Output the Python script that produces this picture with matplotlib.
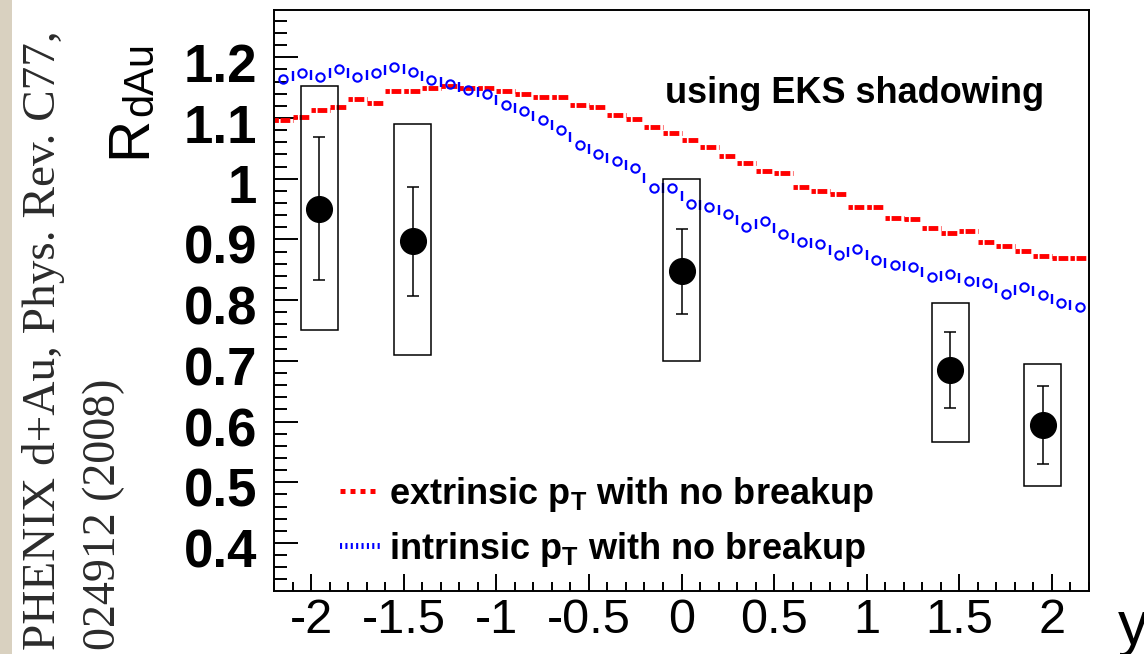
import numpy as np
import matplotlib.pyplot as plt
from matplotlib.patches import Rectangle
from matplotlib.lines import Line2D
from matplotlib.ticker import MultipleLocator
from matplotlib.transforms import ScaledTranslation

plt.rcParams['font.family'] = ['Liberation Sans', 'DejaVu Sans']
plt.rcParams['mathtext.fontset'] = 'custom'
plt.rcParams['mathtext.rm'] = 'Liberation Sans:bold'
plt.rcParams['mathtext.it'] = 'Liberation Sans:bold'

W, H = 1144, 654

# PHENIX d+Au J/psi points
rap = [-1.955, -1.45, 0.0, 1.45, 1.95]
rdau = [0.951, 0.897, 0.848, 0.685, 0.594]
stat_err = [0.117, 0.090, 0.070, 0.062, 0.064]
sys_lo = [0.751, 0.710, 0.700, 0.567, 0.494]
sys_hi = [1.153, 1.090, 1.000, 0.796, 0.695]

# model curves (EKS shadowing), 0.1 wide rapidity bins
rap_edges = [-2.2, -2.1, -2.0, -1.9, -1.8, -1.7, -1.6, -1.5, -1.4, -1.3, -1.2,
             -1.1, -1.0, -0.9, -0.8, -0.7, -0.6, -0.5, -0.4, -0.3, -0.2, -0.1,
             0.0, 0.1, 0.2, 0.3, 0.4, 0.5, 0.6, 0.7, 0.8, 0.9, 1.0, 1.1, 1.2,
             1.3, 1.4, 1.5, 1.6, 1.7, 1.8, 1.9, 2.0, 2.1, 2.2]
extrinsic = [1.096, 1.101, 1.113, 1.119, 1.131, 1.125, 1.145, 1.145, 1.149, 1.153,
             1.149, 1.149, 1.145, 1.140, 1.134, 1.134, 1.122, 1.119, 1.105, 1.098,
             1.085, 1.076, 1.064, 1.053, 1.038, 1.026, 1.012, 1.009, 0.986, 0.980,
             0.975, 0.954, 0.954, 0.936, 0.934, 0.919, 0.911, 0.914, 0.896, 0.890,
             0.881, 0.873, 0.870, 0.870]
intrinsic = [1.164, 1.175, 1.168, 1.180, 1.168, 1.175, 1.184, 1.176, 1.163, 1.156,
             1.146, 1.139, 1.121, 1.112, 1.096, 1.081, 1.056, 1.041, 1.029, 1.017,
             0.985, 0.985, 0.959, 0.954, 0.942, 0.921, 0.930, 0.909, 0.896, 0.892,
             0.874, 0.884, 0.866, 0.858, 0.855, 0.838, 0.843, 0.831, 0.829, 0.811,
             0.822, 0.808, 0.795, 0.788]

x_ticks = [-2, -1.5, -1, -0.5, 0, 0.5, 1, 1.5, 2]
x_labels = ['-2', '-1.5', '-1', '-0.5', '0', '0.5', '1', '1.5', '2']
y_ticks = [0.4, 0.5, 0.6, 0.7, 0.8, 0.9, 1.0, 1.1, 1.2]
y_labels = ['0.4', '0.5', '0.6', '0.7', '0.8', '0.9', '1', '1.1', '1.2']

legend_labels = ['extrinsic p$_\\mathrm{T}$ with no breakup',
                 'intrinsic p$_\\mathrm{T}$ with no breakup']


def fx(px):
    return px / W


def fy(py):
    return 1 - py / H


fig = plt.figure(figsize=(W / 100, H / 100), dpi=100)
fig.add_artist(Rectangle((0, 0), fx(12), 1, transform=fig.transFigure,
                         color='#d9d1c0', lw=0, zorder=0))

ax = fig.add_axes([fx(274), fy(591), fx(815), 581 / H])
ax.set_xlim(-2.2, 2.2)
ax.set_ylim(0.321, 1.278)

edges = np.array(rap_edges)
centers = (edges[:-1] + edges[1:]) / 2
ext = np.array(extrinsic)
intr = np.array(intrinsic)

# red: dashed steps, one segment per bin
ax.hlines(ext, edges[:-1], edges[1:], colors='red', lw=3.5,
          linestyles=[(0, (0.9, 0.35, 2.0, 0.55))], zorder=2)

# blue: open circles at bin centres, small bars at bin edges
ax.plot(centers, intr, 'o', ms=6, mfc='none', mec='blue', mew=1.5, zorder=2)
ax.plot(edges[1:-1], (intr[:-1] + intr[1:]) / 2, '|', ms=6.5, mew=1.7,
        color='blue', zorder=2)

# systematic boxes + data points
for x, lo, hi in zip(rap, sys_lo, sys_hi):
    ax.add_patch(Rectangle((x - 0.1, lo), 0.2, hi - lo, fill=False,
                           ec='black', lw=1.1, zorder=3))
ax.errorbar(rap, rdau, yerr=stat_err, fmt='o', color='black', ms=18.5,
            elinewidth=1.1, capsize=4, capthick=1.1, zorder=5)

ax.set_xticks(x_ticks, x_labels)
ax.set_yticks(y_ticks, y_labels)
ax.xaxis.set_minor_locator(MultipleLocator(0.1))
ax.yaxis.set_minor_locator(MultipleLocator(0.02))
ax.tick_params(which='both', direction='in', top=False, right=False, width=1.4)
ax.tick_params(axis='y', which='major', length=17, pad=12, labelsize=38)
ax.tick_params(axis='y', which='minor', length=9.4)
ax.tick_params(axis='x', which='major', length=12, pad=5, labelsize=35)
ax.tick_params(axis='x', which='minor', length=6.5)
shift = ScaledTranslation(0, -5 / 100, fig.dpi_scale_trans)
for tick in ax.yaxis.get_major_ticks():
    tick.label1.set_fontweight('bold')
    tick.label1.set_transform(tick.label1.get_transform() + shift)
for sp in ax.spines.values():
    sp.set_linewidth(1.4)

handles = [Line2D([], [], color='red', lw=3.6, ls=(0, (1, 1))),
           Line2D([], [], color='blue', lw=4.3, ls=(0, (0.35, 0.55)))]
ax.legend(handles, legend_labels, loc='upper left', bbox_to_anchor=(0.081, 0.2),
          frameon=False, prop={'family': 'Liberation Sans', 'weight': 'bold', 'size': 26},
          handlelength=1.1, handletextpad=0.25, labelspacing=0.45,
          borderpad=0, borderaxespad=0)

fig.text(fx(855), fy(103), 'using EKS shadowing', ha='center', va='baseline',
         fontsize=26, fontweight='bold')

# axis titles
fig.text(fx(145), fy(158), 'R', rotation=90, rotation_mode='anchor',
         ha='left', va='baseline', fontsize=42)
fig.text(fx(152), fy(116), 'dAu', rotation=90, rotation_mode='anchor',
         ha='left', va='baseline', fontsize=30)
fig.text(fx(1118), fy(644), 'y', ha='left', va='baseline', fontsize=44)

# citation
fig.text(fx(55), fy(650), 'PHENIX d+Au, Phys. Rev. C77,', rotation=90,
         rotation_mode='anchor', ha='left', va='baseline',
         family='Liberation Serif', fontsize=34, color='#2b2b2b')
fig.text(fx(115), fy(650), '024912 (2008)', rotation=90,
         rotation_mode='anchor', ha='left', va='baseline',
         family='Liberation Serif', fontsize=33, color='#2b2b2b')

fig.savefig('out.png', dpi=100)
